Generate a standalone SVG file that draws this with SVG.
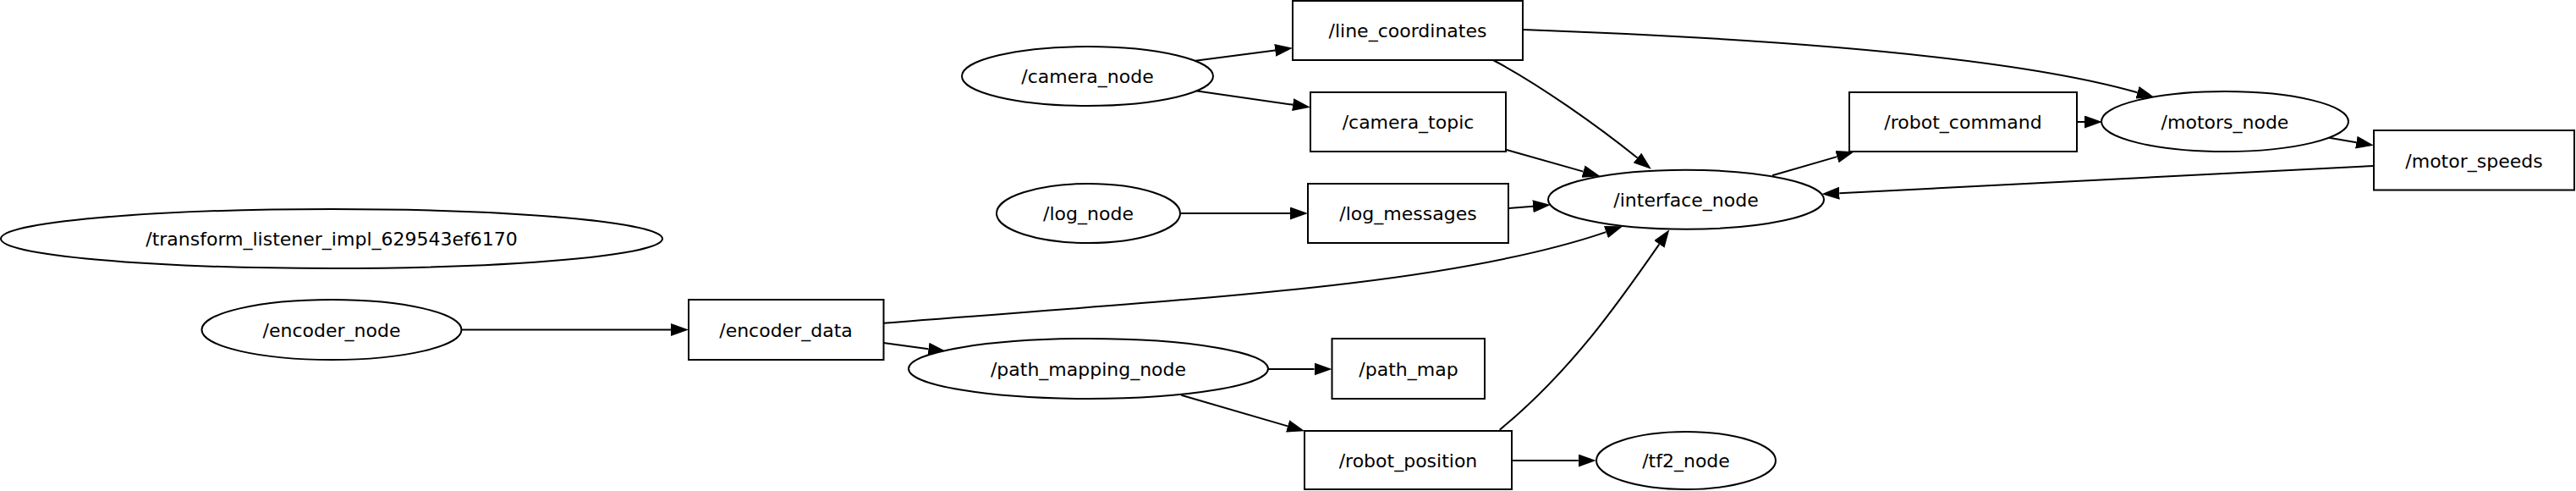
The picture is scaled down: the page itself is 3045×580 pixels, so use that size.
<svg xmlns="http://www.w3.org/2000/svg" width="3045" height="580" viewBox="0 0 3045 580">
<style>
.n ellipse, .n rect { fill: #fff; stroke: #000; stroke-width: 2; }
.n text { font-family: "DejaVu Sans", "Liberation Sans", sans-serif; font-size: 22px; text-anchor: middle; fill: #000; }
#edges path { fill: none; stroke: #000; stroke-width: 2; marker-end: url(#arr); }
</style>
<defs>
<marker id="arr" viewBox="0 0 21 15" refX="0" refY="7.5" markerWidth="21" markerHeight="15" markerUnits="userSpaceOnUse" orient="auto">
<path d="M0,0 L21,7.5 L0,15 z" fill="#000" stroke="none"/>
</marker>
</defs>
<rect width="3045" height="580" fill="#fff"/>
<g id="edges">
<path d="M1413,71.7 L1507.2,59.4"/>
<path d="M1413.3,107.3 L1528.2,123.7"/>
<path d="M1765,71 C1820,100 1890,150 1935.5,186.5"/>
<path d="M1780,176.7 L1871.5,202.6"/>
<path d="M1395,252 L1525,252"/>
<path d="M1783.3,246 L1812,243.7"/>
<path d="M1044.3,381.7 C1394,353.7 1708.8,339 1898.4,274.1"/>
<path d="M1772.7,507.7 C1857.7,437.9 1915.7,354.1 1961.3,288.5"/>
<path d="M2095,207.3 L2171.5,185.1"/>
<path d="M2454,144 L2464,144"/>
<path d="M1800.7,35 C2100.7,45.8 2382.2,68.1 2526.5,109.2"/>
<path d="M2753.3,162.7 L2785.3,168.2"/>
<path d="M2806,196 L2174.3,228.2"/>
<path d="M546,389.5 L793,389.5"/>
<path d="M1044.3,405 L1097.5,412.2"/>
<path d="M1499,436 L1553.5,436"/>
<path d="M1396.3,466.7 L1522.1,503.4"/>
<path d="M1787,544 L1865.7,544"/>
</g>
<g id="transform_listener" class="n"><ellipse cx="392" cy="282" rx="391" ry="35"/><text x="392" y="290">/transform_listener_impl_629543ef6170</text></g>
<g id="camera_node" class="n"><ellipse cx="1285.5" cy="90" rx="148.5" ry="35"/><text x="1285.5" y="98">/camera_node</text></g>
<g id="log_node" class="n"><ellipse cx="1286.5" cy="252" rx="108.5" ry="35"/><text x="1286.5" y="260">/log_node</text></g>
<g id="interface_node" class="n"><ellipse cx="1993" cy="235.8" rx="163" ry="35"/><text x="1993" y="244">/interface_node</text></g>
<g id="motors_node" class="n"><ellipse cx="2630" cy="143.5" rx="146" ry="35.5"/><text x="2630" y="152">/motors_node</text></g>
<g id="encoder_node" class="n"><ellipse cx="392" cy="389.5" rx="153.5" ry="35.5"/><text x="392" y="398">/encoder_node</text></g>
<g id="path_mapping_node" class="n"><ellipse cx="1286.5" cy="435.5" rx="212.5" ry="35.5"/><text x="1286.5" y="444">/path_mapping_node</text></g>
<g id="tf2_node" class="n"><ellipse cx="1993" cy="544" rx="106" ry="34"/><text x="1993" y="552">/tf2_node</text></g>
<g id="line_coordinates" class="n"><rect x="1528" y="1" width="272" height="70"/><text x="1664" y="44">/line_coordinates</text></g>
<g id="camera_topic" class="n"><rect x="1549" y="109" width="231" height="70"/><text x="1664.5" y="152">/camera_topic</text></g>
<g id="log_messages" class="n"><rect x="1546" y="217" width="237" height="70"/><text x="1664.5" y="260">/log_messages</text></g>
<g id="robot_command" class="n"><rect x="2186" y="109" width="269" height="70"/><text x="2320.5" y="152">/robot_command</text></g>
<g id="motor_speeds" class="n"><rect x="2806" y="154" width="237" height="70.5"/><text x="2924.5" y="197.5">/motor_speeds</text></g>
<g id="encoder_data" class="n"><rect x="814" y="354" width="230.5" height="71"/><text x="929" y="397.5">/encoder_data</text></g>
<g id="path_map" class="n"><rect x="1574.5" y="400" width="180.5" height="71"/><text x="1665" y="443.5">/path_map</text></g>
<g id="robot_position" class="n"><rect x="1542" y="509" width="245" height="69"/><text x="1664.5" y="551.5">/robot_position</text></g>
</svg>
